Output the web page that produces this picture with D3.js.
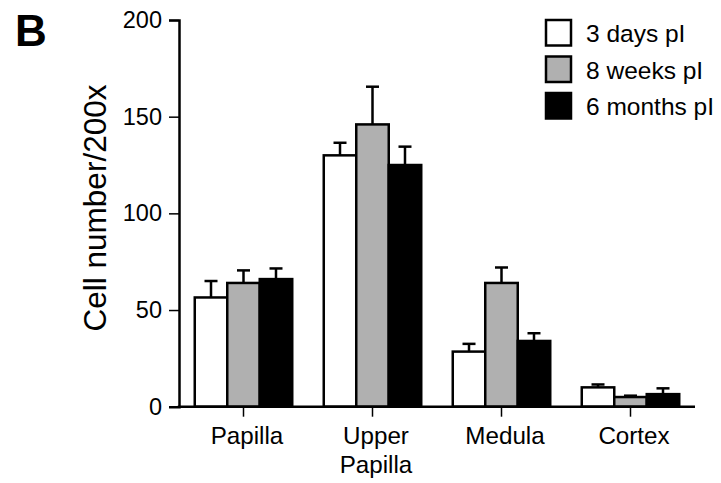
<!DOCTYPE html>
<html>
<head>
<meta charset="utf-8">
<script src="https://cdn.jsdelivr.net/npm/d3@7"></script>
<style>
  body { margin: 0; background: #fff; }
  text { font-family: "Liberation Sans", Arial, Helvetica, sans-serif; fill: #000; }
</style>
</head>
<body>
<div id="chart"></div>
<script>
// Data
const categories = ["Papilla", "Upper Papilla", "Medula", "Cortex"];
const series = ["3 days pI", "8 weeks pI", "6 months pI"];
const colors = ["#ffffff", "#b0b0b0", "#000000"];
const days3 = [56.5, 130, 28.5, 10];
const days3Err = [8.5, 6.5, 4, 1.5];
const weeks8 = [64, 146, 64, 5];
const weeks8Err = [6.5, 19.5, 8, 0.7];
const months6 = [66, 125, 34, 6.5];
const months6Err = [5.5, 9.5, 4, 3];
const yTicks = [0, 50, 100, 150, 200];

const values = [days3, weeks8, months6];
const errors = [days3Err, weeks8Err, months6Err];

const W = 721, H = 483;
const plot = { left: 179, right: 695, top: 20, bottom: 406.7 };

const svg = d3.select("#chart")
    .append("svg")
    .attr("width", W)
    .attr("height", H);

// Scales
const x0 = d3.scaleBand()
    .domain(categories)
    .range([plot.left, plot.right])
    .padding(0);

const x1 = d3.scaleBand()
    .domain(series)
    .range([0, x0.bandwidth()])
    .paddingInner(0)
    .paddingOuter(0.485);

const y = d3.scaleLinear()
    .domain([0, 200])
    .range([plot.bottom, plot.top]);

// Bars
const rows = [];
categories.forEach((c, i) => {
    series.forEach((s, j) => {
        rows.push({ cat: c, ser: s, j, v: values[j][i], e: errors[j][i] });
    });
});

const g = svg.append("g");
const cx = d => x0(d.cat) + x1(d.ser) + x1.bandwidth() / 2;

// Error bars (upper only), drawn before bars
const eb = g.selectAll(".err")
    .data(rows)
    .enter()
    .append("g");

eb.append("line")
    .attr("x1", cx)
    .attr("x2", cx)
    .attr("y1", d => y(d.v))
    .attr("y2", d => y(d.v + d.e))
    .attr("stroke", "#000")
    .attr("stroke-width", 2.5);

eb.append("line")
    .attr("x1", d => cx(d) - 6.5)
    .attr("x2", d => cx(d) + 6.5)
    .attr("y1", d => y(d.v + d.e))
    .attr("y2", d => y(d.v + d.e))
    .attr("stroke", "#000")
    .attr("stroke-width", 2.5);

g.selectAll(".bar")
    .data(rows)
    .enter()
    .append("rect")
    .attr("x", d => x0(d.cat) + x1(d.ser))
    .attr("y", d => y(d.v))
    .attr("width", x1.bandwidth())
    .attr("height", d => plot.bottom - y(d.v))
    .attr("fill", d => colors[d.j])
    .attr("stroke", "#000")
    .attr("stroke-width", 2.5);

// Y axis
const yAxis = svg.append("g")
    .attr("transform", `translate(${plot.left},0)`)
    .call(d3.axisLeft(y).tickValues(yTicks).tickSize(10).tickPadding(7));
yAxis.select(".domain").attr("stroke-width", 2.5);
yAxis.selectAll(".tick line").attr("stroke-width", 1.5);
yAxis.selectAll(".tick text")
    .style("font-size", "23.5px")
    .style("font-family", "Liberation Sans, Arial, sans-serif");

// X axis
const xAxis = svg.append("g")
    .attr("transform", `translate(0,${plot.bottom})`)
    .call(d3.axisBottom(x0).tickSize(10).tickFormat(""));
xAxis.select(".domain").remove();
xAxis.selectAll(".tick line").attr("stroke-width", 1.5);

svg.append("line")
    .attr("x1", plot.left - 1.25)
    .attr("x2", plot.right)
    .attr("y1", plot.bottom)
    .attr("y2", plot.bottom)
    .attr("stroke", "#000")
    .attr("stroke-width", 2.5);

// Category labels (two lines for "Upper Papilla")
const catLabels = svg.append("g")
    .selectAll("text")
    .data(categories)
    .enter()
    .append("text")
    .attr("x", d => x0(d) + x0.bandwidth() / 2 + 3.5)
    .attr("y", 443.5)
    .attr("text-anchor", "middle")
    .style("font-size", "24.2px");

catLabels.selectAll("tspan")
    .data(d => d.split(" "))
    .enter()
    .append("tspan")
    .attr("x", function () { return d3.select(this.parentNode).attr("x"); })
    .attr("dy", (d, i) => i === 0 ? 0 : 29)
    .text(d => d);

// Y axis title
svg.append("text")
    .attr("transform", "translate(106,208) rotate(-90)")
    .attr("text-anchor", "middle")
    .style("font-size", "31.5px")
    .text("Cell number/200x");

// Panel letter
svg.append("text")
    .attr("x", 15)
    .attr("y", 46)
    .style("font-size", "44px")
    .style("font-weight", "bold")
    .text("B");

// Legend
const legend = svg.selectAll(".legend")
    .data(series)
    .enter()
    .append("g")
    .attr("transform", (d, i) => `translate(546, ${20 + i * 36.5})`);

legend.append("rect")
    .attr("width", 25)
    .attr("height", 25.5)
    .attr("fill", (d, i) => colors[i])
    .attr("stroke", "#000")
    .attr("stroke-width", 2.5);

legend.append("text")
    .attr("x", 40)
    .attr("y", 22)
    .style("font-size", "24.5px")
    .text(d => d);
</script>
</body>
</html>
